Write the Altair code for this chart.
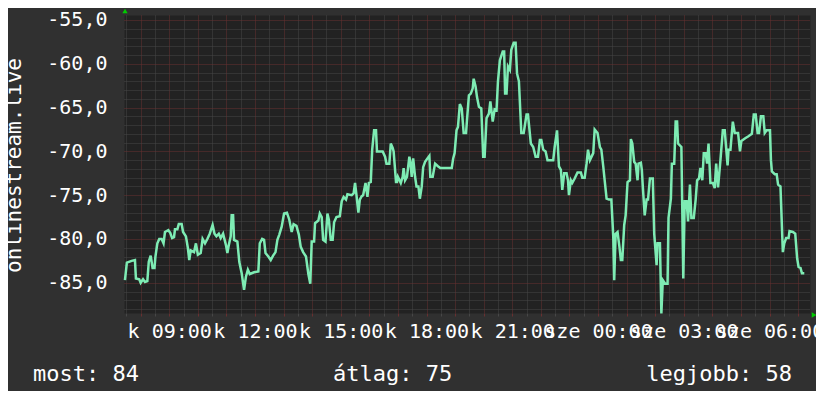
import altair as alt
import pandas as pd

# ---- data (minutes after 07:25 on Tuesday, signal value) ----
TIME_MIN = [
    2, 6, 16, 23, 25, 32, 35, 40, 44, 49, 52, 56, 60, 64, 66, 70, 74, 79, 83, 86,
    93, 97, 101, 105, 107, 112, 115, 121, 124, 130, 134, 137, 140, 147, 151, 155, 161, 165, 170, 175,
    180, 186, 190, 194, 199, 203, 208, 214, 217, 220, 224, 226, 229, 231, 238, 242, 247, 252, 256, 260,
    264, 273, 282, 285, 290, 294, 297, 303, 308, 313, 318, 322, 326, 331, 336, 342, 347, 352, 356, 362,
    367, 371, 376, 382, 387, 391, 394, 399, 401, 408, 411, 415, 418, 423, 427, 430, 434, 438, 441, 446,
    453, 457, 461, 466, 469, 478, 482, 485, 488, 492, 495, 499, 502, 507, 511, 514, 518, 521, 525, 529,
    531, 543, 548, 551, 557, 560, 564, 566, 571, 573, 575, 581, 585, 587, 590, 594, 599, 601, 604, 607,
    611, 614, 618, 621, 625, 628, 632, 637, 641, 643, 648, 653, 659, 664, 688, 691, 694, 698, 701, 705,
    709, 713, 718, 720, 724, 728, 732, 734, 738, 741, 745, 750, 754, 757, 761, 766, 769, 774, 778, 782,
    785, 789, 795, 798, 800, 803, 806, 810, 813, 818, 822, 825, 829, 834, 839, 845, 848, 854, 859, 864,
    869, 873, 876, 880, 885, 889, 901, 904, 909, 913, 917, 920, 924, 929, 932, 934, 938, 941, 946, 952,
    959, 962, 967, 971, 974, 978, 985, 988, 994, 999, 1002, 1006, 1009, 1013, 1018, 1023, 1027, 1029, 1032, 1036,
    1040, 1043, 1046, 1050, 1053, 1057, 1062, 1064, 1067, 1071, 1074, 1078, 1080, 1085, 1087, 1089, 1093, 1097, 1100, 1104,
    1110, 1113, 1118, 1120, 1125, 1128, 1131, 1136, 1141, 1143, 1148, 1150, 1155, 1158, 1161, 1163, 1170, 1174, 1177, 1181,
    1184, 1188, 1191, 1196, 1200, 1203, 1207, 1210, 1214, 1217, 1221, 1224, 1227, 1231, 1236, 1240, 1243, 1247, 1252, 1257,
    1261, 1264, 1267, 1269, 1273, 1278, 1282, 1289, 1293, 1296, 1304, 1310, 1318, 1322, 1326, 1330, 1333, 1337, 1342, 1345,
    1349, 1356, 1358, 1360, 1366, 1370, 1373, 1378, 1383, 1386, 1390, 1395, 1397, 1404, 1409, 1413, 1416, 1420, 1423, 1428,
]
VALUES = [
    -84.7, -82.7, -82.5, -82.4, -84.5, -84.6, -85.0, -84.6, -84.9, -84.8, -82.6, -81.9, -83.3, -83.3, -82.0, -80.5, -80.0, -80.0, -80.5, -79.2,
    -79.0, -79.3, -79.9, -79.8, -78.9, -78.9, -78.3, -78.3, -79.2, -79.7, -81.0, -82.4, -81.3, -81.5, -80.5, -81.8, -81.6, -80.0, -80.5, -80.0,
    -79.4, -78.4, -79.4, -79.7, -79.4, -79.9, -79.4, -80.7, -81.6, -80.7, -79.7, -77.3, -77.3, -80.1, -80.3, -82.6, -83.9, -85.8, -84.3, -83.5,
    -84.0, -83.8, -83.7, -80.5, -80.0, -80.1, -81.6, -82.0, -82.4, -81.9, -81.5, -80.1, -79.5, -78.6, -77.1, -77.0, -77.8, -79.2, -78.3, -78.5,
    -79.5, -80.9, -81.5, -82.0, -84.0, -85.1, -80.3, -80.3, -78.2, -77.9, -77.1, -77.5, -80.1, -80.3, -77.1, -77.8, -80.1, -80.1, -78.1, -77.5,
    -77.4, -75.7, -75.2, -75.5, -74.9, -75.0, -74.8, -73.6, -75.0, -77.0, -75.5, -75.1, -75.0, -73.6, -75.2, -73.6, -73.5, -69.8, -67.6, -67.6,
    -70.0, -70.0, -70.6, -71.4, -71.4, -69.1, -69.6, -70.0, -73.5, -73.5, -72.9, -73.6, -72.9, -71.9, -73.3, -72.9, -70.6, -71.2, -72.9, -70.8,
    -72.9, -74.0, -74.0, -75.4, -74.0, -71.8, -71.2, -70.8, -70.5, -72.9, -72.9, -71.4, -71.7, -71.9, -71.9, -70.8, -70.2, -67.6, -67.2, -64.6,
    -65.1, -67.9, -67.9, -66.4, -63.6, -63.4, -62.8, -61.7, -62.6, -63.8, -64.9, -65.1, -70.6, -70.6, -66.2, -65.7, -64.3, -66.6, -65.2, -65.3,
    -62.0, -59.6, -58.6, -58.6, -63.4, -63.4, -60.3, -60.7, -58.4, -57.6, -57.6, -61.1, -62.0, -67.9, -67.9, -65.8, -65.8, -69.1, -69.5, -70.6,
    -70.6, -68.7, -68.7, -69.8, -70.0, -71.0, -71.0, -69.5, -67.6, -71.7, -72.1, -74.4, -72.5, -72.5, -73.3, -75.0, -73.3, -73.6, -73.1, -72.4,
    -72.4, -73.0, -73.0, -71.4, -69.8, -71.0, -70.2, -67.5, -67.9, -69.5, -69.8, -71.7, -73.3, -75.4, -75.5, -75.5, -79.7, -84.7, -79.4, -79.2,
    -80.9, -82.4, -82.4, -78.4, -77.3, -73.5, -73.3, -68.6, -69.1, -71.2, -71.4, -73.3, -71.4, -71.3, -72.1, -74.0, -77.3, -75.5, -75.5, -73.1,
    -73.1, -79.4, -83.0, -80.5, -80.5, -88.5, -84.7, -85.1, -85.1, -77.6, -75.4, -71.4, -71.4, -66.6, -66.6, -69.1, -69.5, -84.5, -75.7, -75.7,
    -78.0, -73.8, -77.6, -77.6, -75.5, -73.3, -73.1, -71.9, -73.3, -70.2, -70.2, -71.4, -69.1, -73.6, -73.6, -74.2, -71.4, -74.1, -71.0, -67.6,
    -67.6, -69.6, -71.6, -69.8, -69.8, -66.6, -67.9, -67.9, -70.0, -68.8, -68.5, -68.3, -68.0, -65.8, -65.8, -67.9, -67.9, -66.0, -66.0, -67.9,
    -67.6, -67.6, -71.0, -72.3, -72.6, -72.6, -73.8, -74.0, -81.5, -80.5, -79.9, -79.9, -79.1, -79.2, -79.4, -82.2, -83.2, -83.3, -83.9, -83.9,
]

X_TICK_HOURS = [9, 12, 15, 18, 21, 24, 27, 30]
X_TICK_LABELS = ["k 09:00", "k 12:00", "k 15:00", "k 18:00", "k 21:00",
                 "sze 00:00", "sze 03:00", "sze 06:00"]
Y_GRID_VALUES = list(range(-88, -54))
Y_TITLE = "onlinestream.live"
SUMMARY_TEXT = ["most: 84", "átlag: 75", "legjobb: 58"]

FONT = "DejaVu Sans Mono"
LINE_COLOR = "#7eecb4"
GRID_MAJOR = "#683030"
GRID_MINOR = "#474747"
ARROW = "#00cc00"

base = pd.Timestamp("2024-01-02 07:25:00")
df = pd.DataFrame({
    "t": [base + pd.Timedelta(minutes=m) for m in TIME_MIN],
    "v": VALUES,
})

x_vals = []
for k in range(48):
    total = 7 * 60 + 30 + 30 * k
    d = 2 + total // 1440
    mm = total % 1440
    x_vals.append(alt.DateTime(year=2024, month=1, date=d, hours=mm // 60, minutes=mm % 60))

hours_js = str(X_TICK_HOURS)
labels_js = "[" + ",".join('"%s"' % s for s in X_TICK_LABELS) + "]"
key = "(hours(datum.value) + (date(datum.value) == 3 ? 24 : 0))"
x_label_expr = (
    f"minutes(datum.value) == 0 && indexof({hours_js}, {key}) >= 0 ? "
    f"{labels_js}[indexof({hours_js}, {key})] : ''"
)
y_label_expr = (
    "datum.value % 5 == 0 ? replace((datum.value < 0 ? '-' : '') + "
    "format(abs(datum.value), '.1f'), '.', ',') : ''"
)

x_grid_color = {"condition": {"test": "minutes(datum.value) == 0", "value": GRID_MAJOR},
                "value": GRID_MINOR}
y_grid_color = {"condition": {"test": "datum.value % 5 == 0", "value": GRID_MAJOR},
                "value": GRID_MINOR}

line = alt.Chart(df).mark_line(color=LINE_COLOR, strokeWidth=2.5).encode(
    x=alt.X(
        "t:T",
        scale=alt.Scale(domain=[
            alt.DateTime(year=2024, month=1, date=2, hours=7, minutes=25),
            alt.DateTime(year=2024, month=1, date=3, hours=7, minutes=25),
        ]),
        axis=alt.Axis(
            values=x_vals, labelExpr=x_label_expr, title="",
            gridColor=x_grid_color, gridDash=[1, 1], gridWidth=1,
            ticks=True, tickSize=3, tickColor=x_grid_color,
            labelPadding=5, labelOverlap=False, labelFlush=False, labelBound=False,
            labelAlign="center", labelBaseline="top", domain=False,
        ),
    ),
    y=alt.Y(
        "v:Q",
        scale=alt.Scale(domain=[-88.45, -54.43], nice=False, zero=False),
        axis=alt.Axis(
            values=Y_GRID_VALUES, labelExpr=y_label_expr,
            gridColor=y_grid_color, gridDash=[1, 1], gridWidth=1,
            ticks=False, tickSize=0, labelPadding=17, labelOverlap=False,
            labelFlush=False, labelBound=False, domain=False,
            title=Y_TITLE, titleAngle=270, titleX=-110, titleY=150,
            titleAlign="center", titleBaseline="middle", titleFontSize=21,
        ),
    ),
)

one = pd.DataFrame({"label": [0]})


def summary(i, x, align):
    d = pd.DataFrame({"label": [SUMMARY_TEXT[i]]})
    return alt.Chart(d).mark_text(
        font=FONT, fontSize=22, color="#ffffff", align=align, baseline="alphabetic"
    ).encode(x=alt.value(x), y=alt.value(366), text="label:N")


arrow_up = alt.Chart(one).mark_point(
    shape="triangle-up", filled=True, color=ARROW, size=28, opacity=1
).encode(x=alt.value(1), y=alt.value(-4))
arrow_right = alt.Chart(one).mark_point(
    shape="triangle-right", filled=True, color=ARROW, size=28, opacity=1
).encode(x=alt.value(690), y=alt.value(300))

chart = alt.layer(
    line,
    summary(0, -91, "left"),
    summary(1, 209, "left"),
    summary(2, 668, "right"),
    arrow_up,
    arrow_right,
).properties(
    width=686,
    height=298,
    padding={"left": 116, "top": 7, "right": 6, "bottom": 78},
    autosize=alt.AutoSizeParams(type="none"),
    background="#303030",
).configure_view(
    fill="#222222", stroke="transparent"
).configure_axis(
    labelFont=FONT, labelFontSize=20, labelColor="#ffffff",
    titleFont=FONT, titleFontSize=20, titleColor="#ffffff", titleFontWeight="normal",
)

chart.save("out.html", embed_options={"renderer": "svg", "actions": False})
